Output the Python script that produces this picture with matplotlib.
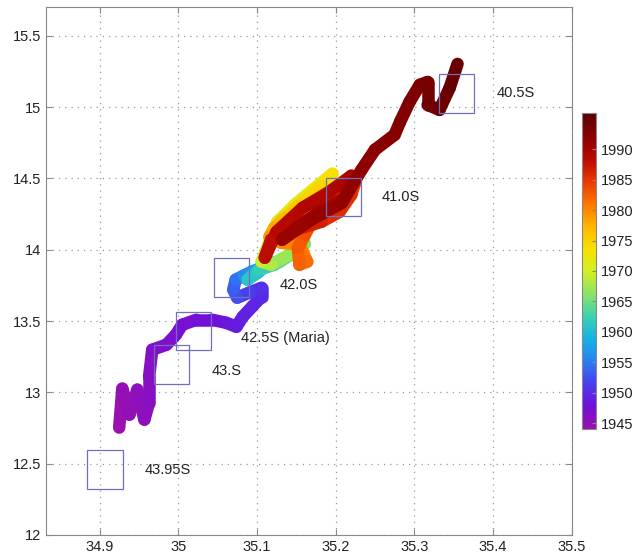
import numpy as np
import matplotlib
matplotlib.use("Agg")
import matplotlib.pyplot as plt
from matplotlib.collections import LineCollection
from matplotlib.colors import LinearSegmentedColormap
from matplotlib.patches import Rectangle
from matplotlib.ticker import FormatStrFormatter

plt.rcParams['font.family'] = ['Liberation Sans', 'DejaVu Sans']

# track of the path (lon, lat) and the year of each point
lon = [34.925, 34.929, 34.938, 34.948, 34.957, 34.963, 34.963, 34.967, 34.985, 34.997,
       35.005, 35.023, 35.043, 35.061, 35.074, 35.082, 35.094, 35.106, 35.106, 35.090,
       35.075, 35.070, 35.073, 35.083, 35.093, 35.106, 35.118, 35.101, 35.088, 35.103,
       35.122, 35.129, 35.149, 35.161, 35.141, 35.118, 35.106,
       35.126, 35.148, 35.171, 35.196, 35.182, 35.154, 35.135,
       35.122, 35.116, 35.131, 35.154, 35.164, 35.154,
       35.152, 35.161, 35.177, 35.199, 35.224, 35.220, 35.205, 35.182, 35.141, 35.118,
       35.110, 35.125, 35.158, 35.192, 35.220, 35.211, 35.177, 35.149, 35.132, 35.169,
       35.208, 35.233, 35.250, 35.275, 35.282, 35.294,
       35.307, 35.317, 35.317, 35.332, 35.345, 35.355]
lat = [12.753, 13.026, 12.844, 13.019, 12.809, 12.928, 13.110, 13.299, 13.334, 13.404,
       13.474, 13.509, 13.509, 13.488, 13.460, 13.530, 13.601, 13.671, 13.734, 13.699,
       13.664, 13.720, 13.790, 13.818, 13.846, 13.874, 13.916, 13.839, 13.790, 13.860,
       13.895, 13.916, 13.986, 14.042, 13.965, 13.895, 13.916,
       14.196, 14.315, 14.420, 14.533, 14.448, 14.315, 14.224,
       14.154, 14.091, 14.049, 14.035, 13.916, 13.895,
       14.014, 14.105, 14.266, 14.385, 14.456, 14.385, 14.266, 14.196, 14.126, 14.070,
       13.944, 14.126, 14.294, 14.406, 14.519, 14.364, 14.259, 14.147, 14.070, 14.210,
       14.329, 14.561, 14.701, 14.806, 14.897, 15.037,
       15.156, 15.177, 15.016, 14.981, 15.135, 15.303]
year = [1944.0, 1944.3, 1944.6, 1944.9, 1945.2, 1945.5, 1945.8, 1946.1, 1946.4, 1946.7,
        1947.0, 1947.4, 1947.8, 1948.2, 1948.6, 1949.0, 1949.4, 1949.8, 1950.2, 1951.0,
        1952.0, 1953.0, 1954.0, 1955.0, 1956.5, 1957.5, 1958.5, 1959.5, 1960.5, 1961.5,
        1962.5, 1963.5, 1964.5, 1965.5, 1966.5, 1967.5, 1968.5,
        1970.0, 1971.0, 1972.0, 1973.0, 1974.0, 1975.0, 1976.0,
        1977.5, 1978.5, 1979.5, 1980.5, 1981.5, 1982.0,
        1982.5, 1983.0, 1983.5, 1984.0, 1984.5, 1985.0, 1985.5, 1986.0, 1987.0, 1987.5,
        1988.0, 1988.4, 1988.8, 1989.2, 1989.6, 1989.9, 1990.2, 1990.5, 1990.8, 1991.1,
        1991.4, 1991.7, 1992.0, 1992.3, 1992.6, 1992.9,
        1993.2, 1993.5, 1993.8, 1994.2, 1994.6, 1995.0]

# boxes and their labels
box_names = ['40.5S', '41.0S', '42.0S', '42.5S (Maria)', '43.S', '43.95S']
box_lon = [35.354, 35.210, 35.068, 35.019, 34.991, 34.907]
box_lat = [15.096, 14.371, 13.807, 13.432, 13.194, 12.458]
label_lon = [35.405, 35.258, 35.129, 35.080, 35.042, 34.957]
label_lat = [15.096, 14.373, 13.755, 13.381, 13.147, 12.453]
box_w = 0.0446
box_h = 0.27

cmap = LinearSegmentedColormap.from_list('yrs', [
    '#9a10b0', '#7010d8', '#4a3cf0', '#2a80f0', '#12b4e4', '#3ed2b0',
    '#8ce464', '#d4f020', '#f8e000', '#ffb400', '#ff7400', '#e83800',
    '#b80800', '#8a0000', '#5a0000'])

fig = plt.figure(figsize=(6.34, 5.57), dpi=100)
ax = fig.add_axes([0.0726, 0.0395, 0.829, 0.9474])
cax = fig.add_axes([0.9175, 0.2293, 0.0221, 0.5684])

pts = np.column_stack([lon, lat])
segs = np.stack([pts[:-1], pts[1:]], axis=1)
yr = np.array(year)
lc = LineCollection(segs, cmap=cmap, linewidths=9, capstyle='round', joinstyle='round')
lc.set_array((yr[:-1] + yr[1:]) / 2)
lc.set_clim(1944, 1996)
ax.add_collection(lc)

for bx, by in zip(box_lon, box_lat):
    ax.add_patch(Rectangle((bx - box_w / 2, by - box_h / 2), box_w, box_h,
                           fill=False, edgecolor='#6f6fc0', linewidth=0.9, zorder=4))
for name, tx, ty in zip(box_names, label_lon, label_lat):
    ax.text(tx, ty, name, fontsize=10.5, color='#222222', va='center', ha='left')

ax.set_xlim(34.832, 35.5)
ax.set_ylim(12, 15.7)
ax.set_xticks([34.9, 35.0, 35.1, 35.2, 35.3, 35.4, 35.5])
ax.set_yticks([12, 12.5, 13, 13.5, 14, 14.5, 15, 15.5])
ax.xaxis.set_major_formatter(FormatStrFormatter('%g'))
ax.yaxis.set_major_formatter(FormatStrFormatter('%g'))
ax.grid(True, linestyle=(0, (1, 4)), color='#999999', linewidth=0.9)
ax.set_axisbelow(True)
ax.tick_params(direction='in', length=4, colors='#888888', labelcolor='#222222',
               labelsize=10.5, top=True, right=True)
for s in ax.spines.values():
    s.set_color('#888888')

cb = fig.colorbar(lc, cax=cax)
cb.set_ticks([1945, 1950, 1955, 1960, 1965, 1970, 1975, 1980, 1985, 1990])
cb.ax.tick_params(direction='in', length=3, colors='#888888', labelcolor='#222222',
                  labelsize=10.5)
cb.outline.set_edgecolor('#888888')

fig.savefig('out.png', dpi=100)
